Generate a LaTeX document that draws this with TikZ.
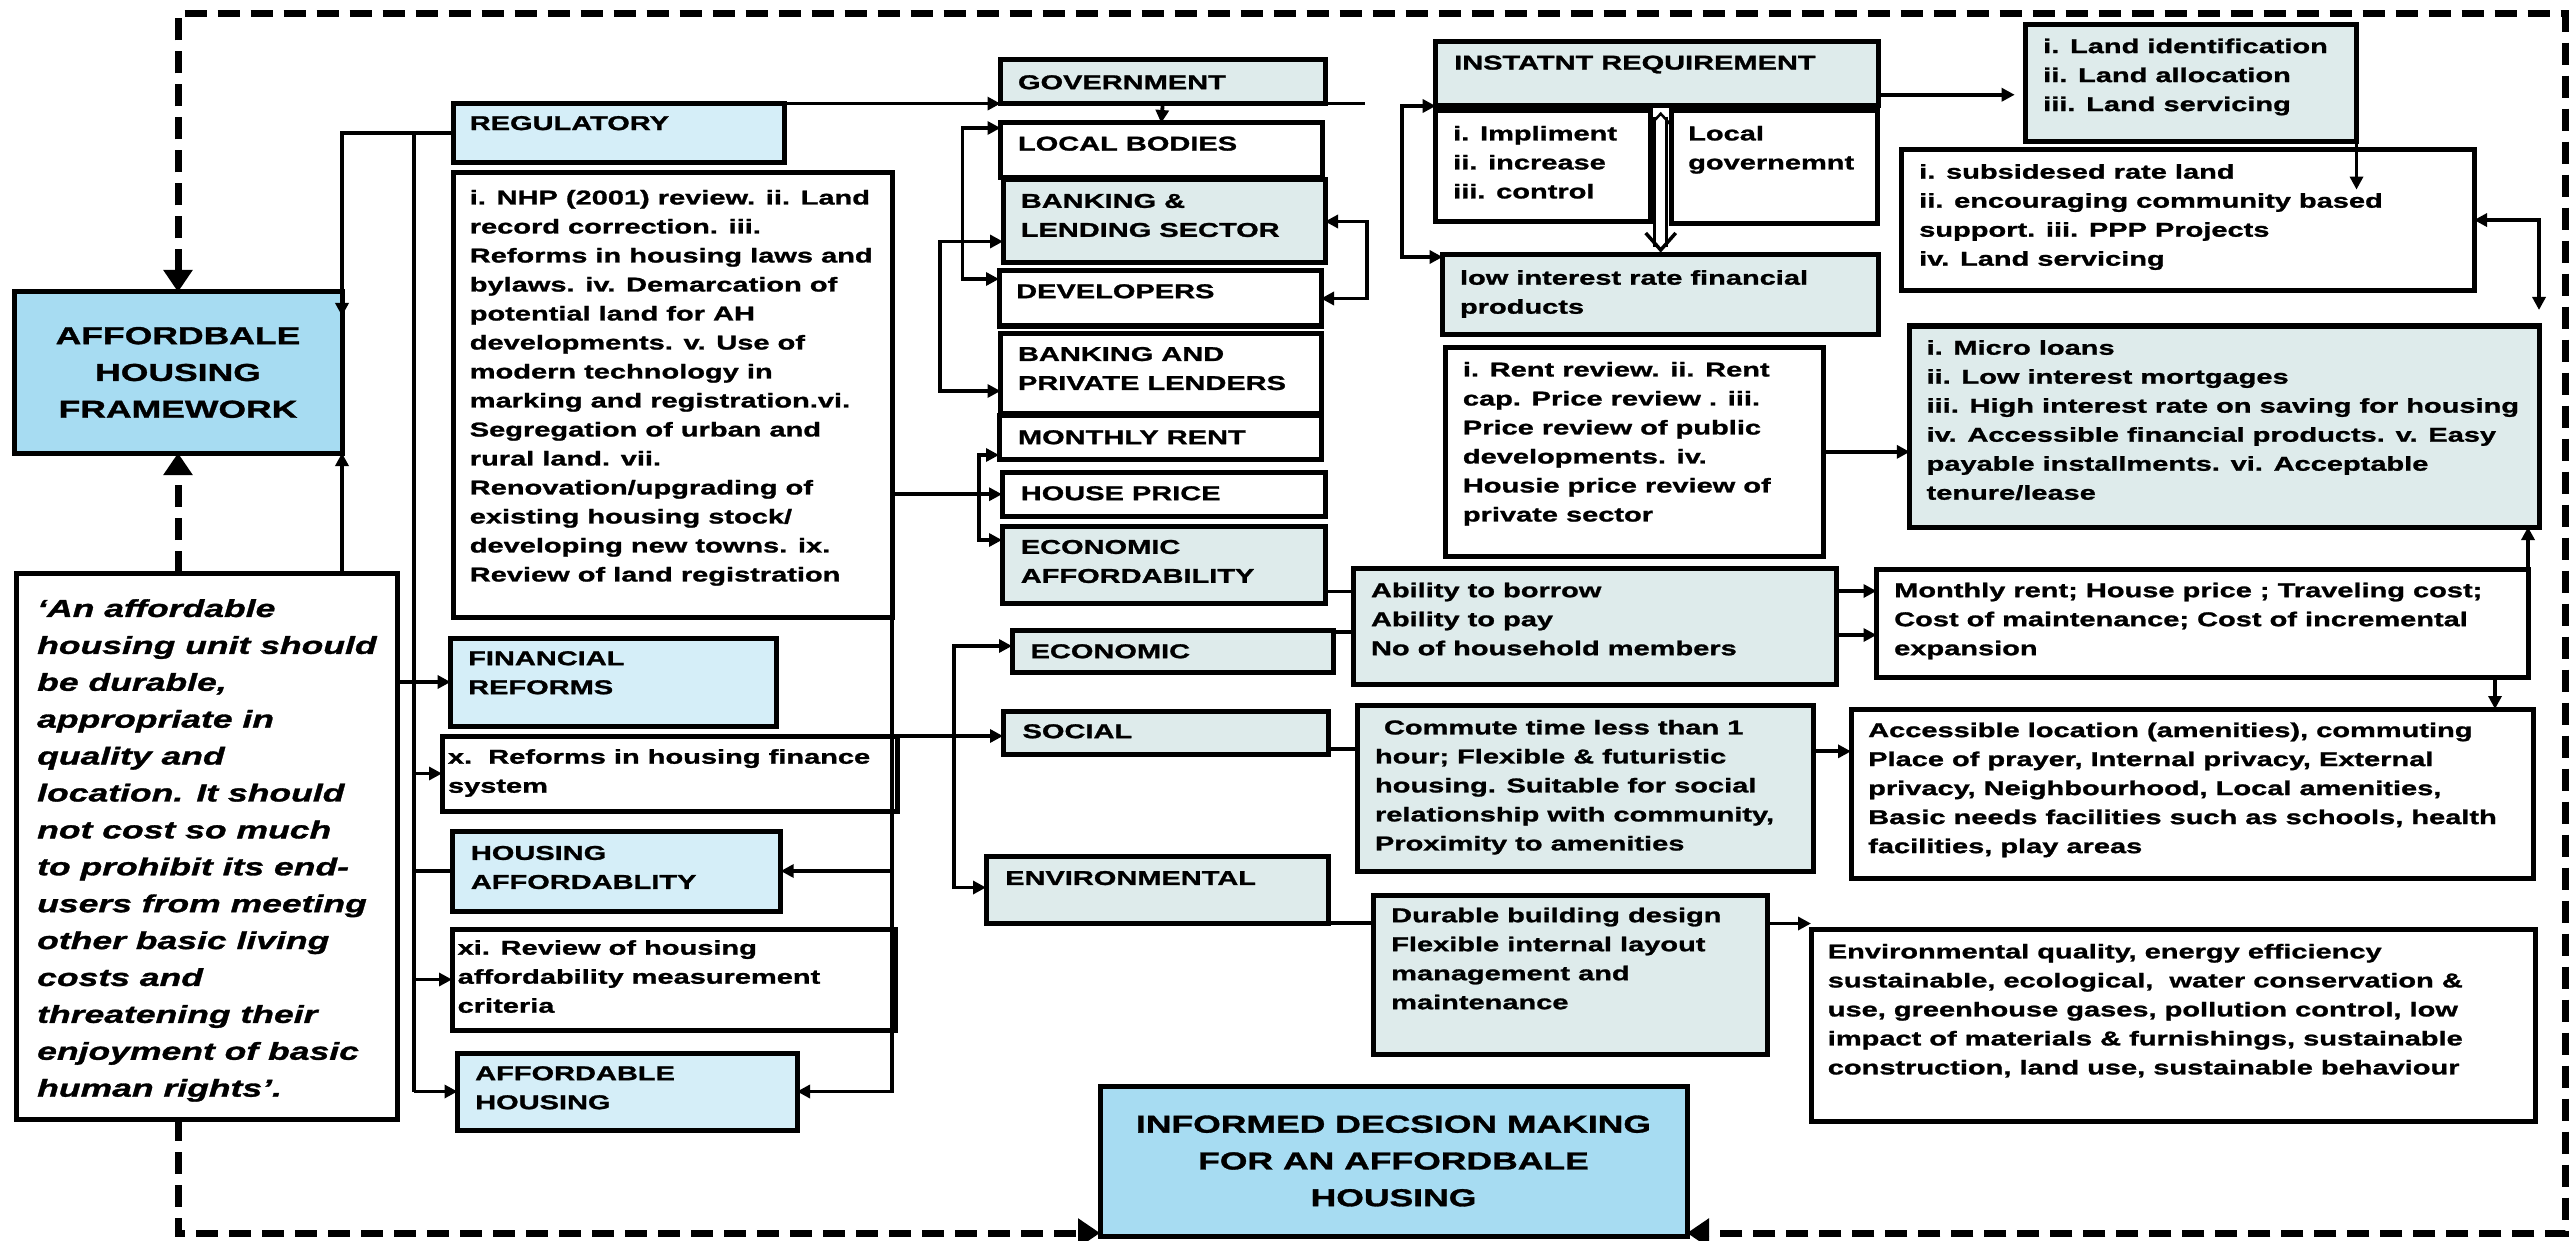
\documentclass[tikz,border=0pt]{standalone}
\usepackage{fontspec}
\setmainfont{Liberation Sans Bold}[FakeStretch=1.45, FakeBold=1.3,
  BoldFont={Liberation Sans Bold},
  ItalicFont={Liberation Sans Bold Italic},
  BoldItalicFont={Liberation Sans Bold Italic}]
\usetikzlibrary{arrows.meta,calc}

\definecolor{hdrblue}{RGB}{167,220,242}
\definecolor{secblue}{RGB}{213,238,248}
\definecolor{paleteal}{RGB}{222,235,235}

\tikzset{
  box/.style={draw=black, line width=5pt, fill=white, inner sep=0pt, outer sep=0pt},
  hdr/.style={box, fill=hdrblue},
  sec/.style={box, fill=secblue},
  teal/.style={box, fill=paleteal},
  plain/.style={box},
  txt/.style={anchor=north west, inner sep=0pt, align=left, font=\fontsize{20}{29}\selectfont\bfseries},
  bigtxt/.style={inner sep=0pt, align=center, font=\fontsize{24.5}{36.8}\selectfont\bfseries},
  quotetxt/.style={anchor=north west, inner sep=0pt, align=left, font=\fontsize{24.5}{36.9}\selectfont\bfseries\itshape},
  conn/.style={line width=3.8pt},
  arr/.style={conn, -{Triangle[length=13pt,width=13pt]}},
  darr/.style={conn, {Triangle[length=13pt,width=13pt]}-{Triangle[length=13pt,width=13pt]}},
  dsh/.style={line width=7pt, dash pattern=on 22pt off 11pt},
  dtip/.style={-{Triangle[length=22pt,width=28pt]}},
  dtips/.style={{Triangle[length=22pt,width=28pt]}-{Triangle[length=22pt,width=28pt]}},
}

% box node from its outer corners: name, style, x1, y1, x2, y2
\newcommand\mkbox[6]{%
  \node[#2, minimum width={(#5)-(#3)}, minimum height={(#6)-(#4)}]
    (#1) at ({((#3)+(#5))/2},{((#4)+(#6))/2}) {};}

\begin{document}
\begin{tikzpicture}[x=1pt,y=-1pt]
\useasboundingbox (0,0) rectangle (2570,1241);

% ---------- boxes ----------
\mkbox{AHF}{hdr}{14}{292}{342}{453}
\mkbox{Q}{plain}{16}{573}{397}{1119}
\mkbox{REG}{sec}{453}{103.6}{784}{163}
\mkbox{NHP}{plain}{453.5}{173}{892}{617}
\mkbox{FIN}{sec}{450.6}{638}{776}{726}
\mkbox{XR}{plain}{442}{736}{897}{811}
\mkbox{HA}{sec}{452}{831}{780.7}{911}
\mkbox{XI}{plain}{452}{929}{895.5}{1030}
\mkbox{AH}{sec}{457.5}{1053}{797}{1130}

\mkbox{GOV}{teal}{1000.5}{60}{1325}{103.6}
\mkbox{LB}{plain}{1000.5}{123}{1322}{178}
\mkbox{BL}{teal}{1003}{180}{1325}{263}
\mkbox{DEV}{plain}{999}{271}{1321}{326}
\mkbox{BAPL}{plain}{1000.5}{333}{1321}{413}
\mkbox{MR}{plain}{999}{415}{1321}{459}
\mkbox{HP}{plain}{1002}{472.5}{1325}{516}
\mkbox{EA}{teal}{1002}{526}{1325}{603}
\mkbox{ECO}{teal}{1012}{630}{1333.5}{672}
\mkbox{SOC}{teal}{1003}{711}{1328}{754.6}
\mkbox{ENV}{teal}{986}{856.5}{1328}{923}

\mkbox{ABIL}{teal}{1353.6}{568}{1836}{684}
\mkbox{COM}{teal}{1357}{705}{1813}{871.7}
\mkbox{DUR}{teal}{1373.7}{895}{1767}{1054}
\mkbox{IDM}{hdr}{1100}{1086}{1687}{1236}

\mkbox{INST}{teal}{1435.7}{41.5}{1878.7}{106}
\mkbox{IMP}{plain}{1435.7}{110.7}{1650.4}{221.4}
\mkbox{LG}{plain}{1671}{110.7}{1877.6}{223.4}
\mkbox{LOW}{teal}{1442.6}{255}{1878.7}{334}
\mkbox{RENT}{plain}{1445.4}{347}{1823}{556.7}

\mkbox{LAND}{teal}{2025.7}{24.5}{2356.5}{141.6}
\mkbox{SUB}{plain}{1901.4}{149.5}{2474}{290.6}
\mkbox{MICRO}{teal}{1909.8}{326}{2539}{527}
\mkbox{MRB}{plain}{1876.5}{569}{2528}{677.7}
\mkbox{ACC}{plain}{1851}{709}{2533.5}{878.4}
\mkbox{ENVQ}{plain}{1811}{929}{2535}{1121}

% ---------- texts ----------
\node[bigtxt] (AHF-t) at (AHF.center) {AFFORDBALE\\HOUSING\\FRAMEWORK};
\node[bigtxt] (IDM-t) at (IDM.center) {INFORMED DECSION MAKING\\FOR AN AFFORDBALE\\HOUSING};
\node[quotetxt] (Q-t) at (37,599) {‘An affordable\\housing unit should\\be durable,\\appropriate in\\quality and\\location. It should\\not cost so much\\to prohibit its end-\\users from meeting\\other basic living\\costs and\\threatening their\\enjoyment of basic\\human rights’.};

\node[txt] (REG-t) at (469.6,115.9) {REGULATORY};
\node[txt] (NHP-t) at (469.6,189.8) {i. NHP (2001) review. ii. Land\\record correction. iii.\\Reforms in housing laws and\\bylaws. iv. Demarcation of\\potential land for AH\\developments. v. Use of\\modern technology in\\marking and registration.vi.\\Segregation of urban and\\rural land. vii.\\Renovation/upgrading of\\existing housing stock/\\developing new towns. ix.\\Review of land registration};
\node[txt] (FIN-t) at (468,651) {FINANCIAL\\REFORMS};
\node[txt] (XR-t) at (447.8,749) {x.\ \ Reforms in housing finance\\system};
\node[txt] (HA-t) at (470.7,845.7) {HOUSING\\AFFORDABLITY};
\node[txt] (XI-t) at (457.5,940) {xi. Review of housing\\affordability measurement\\criteria};
\node[txt] (AH-t) at (475,1066) {AFFORDABLE\\HOUSING};

\node[txt] (GOV-t) at (1017.8,75) {GOVERNMENT};
\node[txt] (LB-t) at (1017.8,136.4) {LOCAL BODIES};
\node[txt] (BL-t) at (1020.6,193.7) {BANKING \&\\LENDING SECTOR};
\node[txt] (DEV-t) at (1016,284) {DEVELOPERS};
\node[txt] (BAPL-t) at (1017.8,346.8) {BANKING AND\\PRIVATE LENDERS};
\node[txt] (MR-t) at (1017.8,430) {MONTHLY RENT};
\node[txt] (HP-t) at (1020.6,486) {HOUSE PRICE};
\node[txt] (EA-t) at (1020.6,539.7) {ECONOMIC\\AFFORDABILITY};
\node[txt] (ECO-t) at (1030.4,644) {ECONOMIC};
\node[txt] (SOC-t) at (1022.4,724) {SOCIAL};
\node[txt] (ENV-t) at (1005,870.8) {ENVIRONMENTAL};

\node[txt] (ABIL-t) at (1370.8,582.5) {Ability to borrow\\Ability to pay\\No of household members};
\node[txt] (COM-t) at (1374.8,719.7) {\hspace*{9pt}Commute time less than 1\\hour; Flexible \& futuristic\\housing. Suitable for social\\relationship with community,\\Proximity to amenities};
\node[txt] (DUR-t) at (1391,907.5) {Durable building design\\Flexible internal layout\\management and\\maintenance};

\node[txt] (INST-t) at (1454,55.4) {INSTATNT REQUIREMENT};
\node[txt] (IMP-t) at (1453,125.7) {i. Impliment\\ii. increase\\iii. control};
\node[txt] (LG-t) at (1688,125.7) {Local\\governemnt};
\node[txt] (LOW-t) at (1459.8,270) {low interest rate financial\\products};
\node[txt] (RENT-t) at (1462.7,361.8) {i. Rent review. ii. Rent\\cap. Price review . iii.\\Price review of public\\developments. iv.\\Housie price review of\\private sector};

\node[txt] (LAND-t) at (2043,38.4) {i. Land identification\\ii. Land allocation\\iii. Land servicing};
\node[txt] (SUB-t) at (1919,164) {i. subsidesed rate land\\ii. encouraging community based\\support. iii. PPP Projects\\iv. Land servicing};
\node[txt] (MICRO-t) at (1926.4,340) {i. Micro loans\\ii. Low interest mortgages\\iii. High interest rate on saving for housing\\iv. Accessible financial products. v. Easy\\payable installments. vi. Acceptable\\tenure/lease};
\node[txt] (MRB-t) at (1894,582.5) {Monthly rent; House price ; Traveling cost;\\Cost of maintenance; Cost of incremental\\expansion};
\node[txt] (ACC-t) at (1868,722.4) {Accessible location (amenities), commuting\\Place of prayer, Internal privacy, External\\privacy, Neighbourhood, Local amenities,\\Basic needs facilities such as schools, health\\facilities, play areas};
\node[txt] (ENVQ-t) at (1827.6,943.7) {Environmental quality, energy efficiency\\sustainable, ecological,\ \ water conservation \&\\use, greenhouse gases, pollution control, low\\impact of materials \& furnishings, sustainable\\construction, land use, sustainable behaviour};

% ---------- dashed feedback frame ----------
\coordinate (fTop) at (0,14);
\coordinate (fR) at (2565,1233);
\draw[dsh, dtips] (AHF.north) -- (AHF.north |- fTop) -| (fR) -- (fR -| IDM.east);
\draw[dsh, dtip] (Q.north -| AHF.south) -- (AHF.south);
\draw[dsh, dtip] (Q.south -| AHF.south) |- (fR -| IDM.west);

% ---------- left column connectors ----------
\draw[arr] (REG.west) -| ([yshift=-24]AHF.north east);
\draw[arr] (Q.north -| AHF.east) -- (AHF.south east);
\coordinate (t2) at ([xshift=-39]REG.west);
\draw[conn] (t2) -- (t2 |- AH.west);
\draw[arr] (Q.east |- FIN.west) -- (FIN.west);
\draw[arr] (t2 |- XR.west) -- (XR.west);
\draw[conn] (t2 |- HA.west) -- (HA.west);
\draw[arr] (t2 |- XI.west) -- (XI.west);
\draw[arr] (t2 |- AH.west) -- (AH.west);

\draw[arr] (NHP.south east) |- (AH.east);
\draw[arr] (HA.east -| NHP.east) -- (HA.east);
\draw[arr] (HP.west -| NHP.east) -- (HP.west);
\coordinate (t4) at ([xshift=-23]HP.west);
\draw[arr] (t4) |- ([yshift=4]MR.south west);
\draw[arr] (t4) |- ([yshift=-14]EA.north west);

% ---------- stakeholder column ----------
\draw[arr] (REG.north east) -- (GOV.south west);
\draw[conn] (GOV.south east) -- ++(40,0);
\draw[arr] (GOV.south) -- (LB.north);
\draw[darr] ([yshift=-5]LB.north west) -- ++(-38,0) |- ([yshift=-8]DEV.north west);
\draw[darr] ([yshift=-20]BL.west) -- ++(-63,0) |- ([yshift=-18]BAPL.west);
\draw[darr] (BL.east) -- ++(42,0) |- (DEV.east);

\draw[arr] (XR.north east) -- (XR.north east -| SOC.west);
\draw[darr] ([yshift=-16]ECO.north west) -- ++(-58,0) |- ([yshift=-31]ENV.north west);

% ---------- affordability dimensions ----------
\draw[conn] ([yshift=-27]EA.east) -- ([yshift=-27]EA.east -| ABIL.west);
\draw[conn] ([yshift=-2]ECO.north east) -- ([yshift=-2]ECO.north east -| ABIL.west);
\draw[conn] ([yshift=-16]SOC.east) -- ([yshift=-16]SOC.east -| COM.west);
\draw[conn] (ENV.south east) -- (ENV.south east -| DUR.west);
\draw[arr] ([yshift=35]ABIL.east) -- ([yshift=35]ABIL.east -| MRB.west);
\draw[arr] ([yshift=-9]ABIL.east) -- ([yshift=-9]ABIL.east -| MRB.west);
\draw[arr] ([yshift=37]COM.east) -- ([yshift=37]COM.east -| ACC.west);
\draw[arr] ([yshift=51]DUR.east) -- ([yshift=51]DUR.east -| ENVQ.west);
\draw[arr] ([xshift=-33]MRB.south east) -- ([xshift=-33]MRB.south east |- ACC.north);
\draw[arr] (MRB.south east) -- (MRB.south east |- MICRO.south);

% ---------- requirement block ----------
\draw[arr] (RENT.east) -- (RENT.east -| MICRO.west);
\draw[darr] (SUB.east) -| ([yshift=16]MICRO.north east);
\draw[arr] (LAND.south east) -- ++(0,48);
\draw[arr, shorten >=11pt] ([yshift=-21]INST.east) -- ([yshift=-21]INST.east -| LAND.west);
\draw[darr] (INST.south west) -- ++(-34,0) |- ([yshift=-2]LOW.north west);

% hollow double arrow between the requirement and the financial products
\coordinate (dt) at ($(IMP.north east)!0.5!(LG.north west)$);
\coordinate (db) at (dt |- LOW.north);
\draw[line width=3pt] ($(dt)+(-6,6)$) -- ($(db)+(-6,-8)$);
\draw[line width=3pt] ($(dt)+(6,6)$) -- ($(db)+(6,-8)$);
\draw[line width=3.5pt, line join=miter] ($(db)+(-15,-22)$) -- ($(db)+(0,-5)$) -- ($(db)+(15,-22)$);
\draw[line width=2.5pt, line join=miter] ($(dt)+(-11,15)$) -- ($(dt)+(0,3)$) -- ($(dt)+(11,15)$);
\end{tikzpicture}
\end{document}
